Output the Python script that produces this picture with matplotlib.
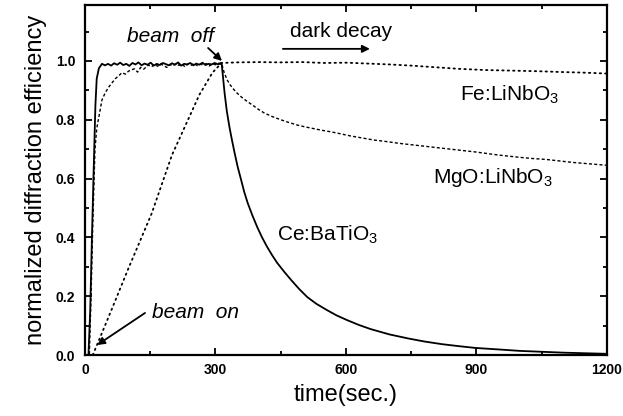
import matplotlib
matplotlib.use("Agg")
import matplotlib.pyplot as plt
from matplotlib.ticker import MultipleLocator

plt.rcParams['font.family'] = ['Liberation Sans', 'DejaVu Sans']
plt.rcParams['mathtext.fontset'] = 'custom'
plt.rcParams['mathtext.rm'] = 'Liberation Sans'
plt.rcParams['mathtext.it'] = 'Liberation Sans:italic'

# ---------------- data ----------------
ce_time = [0, 8, 12, 16, 20, 24, 27, 32, 39,
           46, 53, 60, 67, 74, 81, 88, 95, 102, 109, 116, 123, 130, 137, 144, 151,
           158, 165, 172, 179, 186, 193, 200, 207, 214, 221, 228, 235, 242, 249, 256,
           263, 270, 277, 284, 291, 298, 305, 311,
           314, 317, 321, 326, 332, 338, 344, 351, 359, 366, 374, 385, 396, 407, 419,
           430, 442, 458, 474, 492, 511, 532, 556, 578, 602, 630, 657, 700, 744, 780,
           820, 860, 898, 950, 1000, 1050, 1100, 1150, 1200]
ce_eff = [0.0, 0.0, 0.15, 0.40, 0.63, 0.85, 0.94, 0.975, 0.99,
          0.985, 0.99, 0.984, 0.992, 0.987, 0.994, 0.986, 0.99, 0.983, 0.993, 0.988,
          0.995, 0.985, 0.991, 0.987, 0.994, 0.984, 0.99, 0.986, 0.993, 0.989, 0.985,
          0.992, 0.987, 0.995, 0.984, 0.99, 0.988, 0.993, 0.985, 0.991, 0.987, 0.994,
          0.986, 0.99, 0.988, 0.993, 0.989, 0.99,
          0.993, 0.95, 0.89, 0.83, 0.776, 0.73, 0.687, 0.64, 0.595, 0.555, 0.517,
          0.474, 0.435, 0.40, 0.367, 0.34, 0.313, 0.283, 0.255, 0.225, 0.197, 0.174,
          0.153, 0.135, 0.119, 0.102, 0.088, 0.07, 0.056, 0.046, 0.037, 0.03, 0.024,
          0.019, 0.014, 0.011, 0.008, 0.006, 0.004]

mgo_time = [0, 10, 14, 18, 23, 27, 32, 39, 46, 54, 62, 70, 78, 85, 93, 100, 107,
            114, 121, 128, 135, 146,
            153, 160, 167, 174, 181, 188, 195, 202, 209, 216, 223, 230, 237, 244,
            251, 258, 265, 272, 279, 286, 293, 300, 307,
            314, 320, 327, 334, 342, 350, 359, 372, 385, 398, 412, 430, 450, 468, 488,
            505, 525, 545, 565, 588, 610, 637, 664, 692, 721, 750, 780, 810, 840, 870,
            900, 925, 950, 975, 1000, 1030, 1060, 1090, 1120, 1160, 1200]
mgo_eff = [0.0, 0.0, 0.20, 0.45, 0.70, 0.77, 0.81, 0.867, 0.89, 0.91, 0.925, 0.94,
           0.95, 0.96, 0.955, 0.965, 0.97, 0.973, 0.962, 0.978, 0.972, 0.986,
           0.98, 0.988, 0.982, 0.99, 0.984, 0.978, 0.988, 0.983, 0.991, 0.985, 0.989,
           0.98, 0.99, 0.985, 0.992, 0.984, 0.989, 0.986, 0.991, 0.983, 0.99, 0.987,
           0.992,
           0.993, 0.96, 0.935, 0.918, 0.903, 0.89, 0.878, 0.863, 0.85, 0.836, 0.823,
           0.811, 0.80, 0.791, 0.782, 0.776, 0.77, 0.764, 0.759, 0.752, 0.745, 0.738,
           0.731, 0.726, 0.72, 0.715, 0.71, 0.705, 0.70, 0.695, 0.69, 0.685, 0.68,
           0.676, 0.672, 0.668, 0.665, 0.66, 0.655, 0.65, 0.645]

fe_time = [18, 60, 100, 153, 200, 240, 263, 293, 314, 350, 400, 450, 500, 550, 600,
           650, 700, 750, 800, 860, 920, 980, 1040, 1100, 1150, 1200]
fe_eff = [0.0, 0.15, 0.295, 0.48, 0.68, 0.81, 0.885, 0.96, 0.993, 0.995, 0.996,
          0.995, 0.996, 0.993, 0.994, 0.991, 0.988, 0.984, 0.979, 0.973, 0.969,
          0.967, 0.965, 0.962, 0.96, 0.957]

x_ticks = [0, 300, 600, 900, 1200]
x_ticklabels = ["0", "300", "600", "900", "1200"]
y_ticks = [0.0, 0.2, 0.4, 0.6, 0.8, 1.0]
y_ticklabels = ["0.0", "0.2", "0.4", "0.6", "0.8", "1.0"]

# ---------------- figure ----------------
fig = plt.figure(figsize=(6.23, 4.16), dpi=100)
ax = fig.add_axes([0.1364, 0.1466, 0.8379, 0.8413])

ax.plot(fe_time, fe_eff, color='black', lw=1.3, linestyle=(0, (0.8, 2.2)),
        dash_capstyle='round')
ax.plot(mgo_time, mgo_eff, color='black', lw=1.0, linestyle=(0, (2.2, 1.6)))
ax.plot(ce_time, ce_eff, color='black', lw=1.3)

ax.set_xlim(0, 1200)
ax.set_ylim(0, 1.19)
ax.set_xticks(x_ticks)
ax.set_xticklabels(x_ticklabels)
ax.set_yticks(y_ticks)
ax.set_yticklabels(y_ticklabels)
ax.xaxis.set_minor_locator(MultipleLocator(150))
ax.yaxis.set_minor_locator(MultipleLocator(0.1))
ax.tick_params(which='both', direction='in', top=True, right=True, width=1.3)
ax.tick_params(which='major', length=5)
ax.tick_params(which='minor', length=3)
ax.tick_params(axis='y', which='major', pad=7)
ax.tick_params(axis='x', which='major', pad=6)
for lab in ax.get_xticklabels() + ax.get_yticklabels():
    lab.set_fontsize(10)
    lab.set_fontweight('bold')
for sp in ax.spines.values():
    sp.set_linewidth(1.6)

ax.set_xlabel("time(sec.)", fontsize=17, labelpad=5)
ax.set_ylabel("normalized diffraction efficiency", fontsize=17, labelpad=6)

# annotations
arrow = dict(arrowstyle='-|>', color='black', lw=1.3, mutation_scale=11,
             shrinkA=0, shrinkB=0)
ax.annotate("", xy=(315, 1.0), xytext=(283, 1.044), arrowprops=arrow)
ax.text(97, 1.082, "beam  off", fontsize=15, style='italic', ha='left', va='center')
ax.annotate("", xy=(655, 1.041), xytext=(455, 1.041), arrowprops=arrow)
ax.text(471, 1.099, "dark decay", fontsize=15, ha='left', va='center')
ax.annotate("", xy=(28, 0.034), xytext=(138, 0.143), arrowprops=arrow)
ax.text(154, 0.146, "beam  on", fontsize=15, style='italic', ha='left', va='center')

ax.text(862, 0.884, r"Fe:LiNbO$_3$", fontsize=15, ha='left', va='center')
ax.text(800, 0.602, r"MgO:LiNbO$_3$", fontsize=15, ha='left', va='center')
ax.text(441, 0.408, r"Ce:BaTiO$_3$", fontsize=15, ha='left', va='center')

fig.savefig("out.png", dpi=100)
